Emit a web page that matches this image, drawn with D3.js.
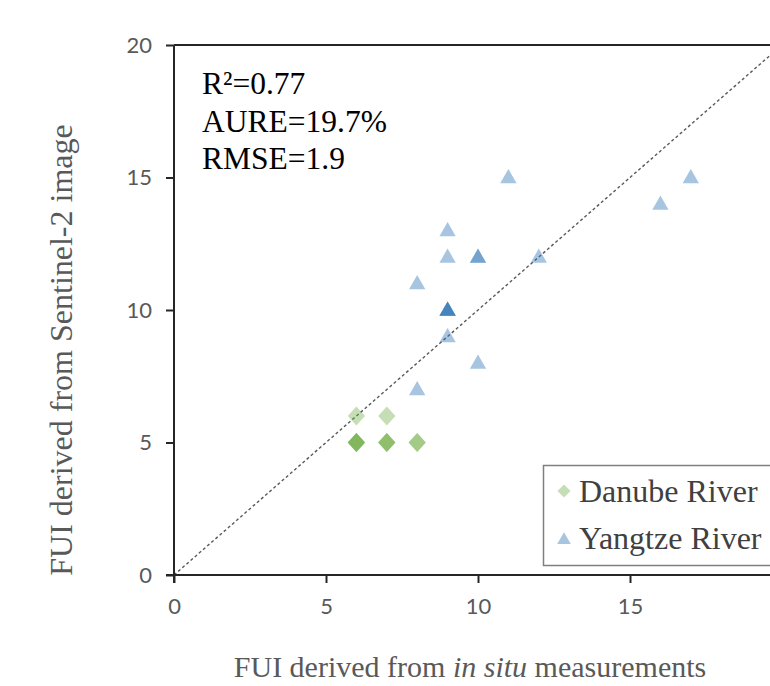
<!DOCTYPE html>
<html><head><meta charset="utf-8">
<script src="https://cdn.jsdelivr.net/npm/d3@7"></script>
<style>body{margin:0;background:#fff}</style></head>
<body><svg id="c" width="770" height="686"></svg>
<script>
const xTicks=[0,5,10,15];
const yTicks=[0,5,10,15,20];
// Danube River (in situ, Sentinel-2); repeated points overlap and look darker
const danubeX=[6,7,6,6,6,6,7,7,7,8,8];
const danubeY=[6,6,5,5,5,5,5,5,5,5,5];
// Yangtze River
const yangtzeX=[11,17,16,9,9,10,10,12,8,9,9,9,9,9,10,8];
const yangtzeY=[15,15,14,13,12,12,12,12,11,10,10,10,10,9,8,7];
const stats=["R²=0.77","AURE=19.7%","RMSE=1.9"];
const seriesNames=["Danube River","Yangtze River"];

const svg=d3.select("#c");
const L=174,T=45,B=575,R=782;
const x=d3.scaleLinear().domain([0,20]).range([L,R]);
const y=d3.scaleLinear().domain([0,20]).range([B,T]);
const serif="'Liberation Serif', 'Times New Roman', serif";

svg.append("defs").append("clipPath").attr("id","cp").append("rect")
 .attr("x",L).attr("y",T).attr("width",R-L).attr("height",B-T);

// diagonal 1:1 line
svg.append("line").attr("clip-path","url(#cp)")
 .attr("x1",x(0)).attr("y1",y(0)).attr("x2",x(20)).attr("y2",y(20))
 .attr("stroke","#595959").attr("stroke-width",1.4).attr("stroke-dasharray","3,2.5");

// top border
svg.append("line").attr("x1",L).attr("x2",R).attr("y1",T).attr("y2",T)
 .attr("stroke","#262626").attr("stroke-width",2);

const xa=svg.append("g").attr("transform",`translate(0,${B})`)
 .call(d3.axisBottom(x).tickValues(xTicks).tickSize(8).tickPadding(15));
const ya=svg.append("g").attr("transform",`translate(${L},0)`)
 .call(d3.axisLeft(y).tickValues(yTicks).tickSize(8).tickPadding(14));
[xa,ya].forEach(a=>{
 a.select(".domain").attr("stroke","#262626").attr("stroke-width",2);
 a.selectAll(".tick line").attr("stroke","#262626").attr("stroke-width",2);
 a.selectAll("text").attr("fill","#595959").style("font-family","Lato, 'Open Sans', sans-serif").style("font-size","22px");
});
xa.select(".domain").attr("d",`M${L-8},0H${R}`);
ya.select(".domain").attr("d",`M0,${B+8}V${T}`);

const diamond=d3.symbol().type(d3.symbolDiamond2).size(190);
const tri=d3.symbol().type(d3.symbolTriangle).size(115);

svg.append("g").selectAll("path").data(danubeX.map((v,i)=>[v,danubeY[i]])).join("path")
 .attr("d",diamond).attr("transform",d=>`translate(${x(d[0])},${y(d[1])}) scale(1,1.1)`)
 .attr("fill","#70ad47").attr("fill-opacity",0.4);
svg.append("g").selectAll("path").data(yangtzeX.map((v,i)=>[v,yangtzeY[i]])).join("path")
 .attr("d",tri).attr("transform",d=>`translate(${x(d[0])},${y(d[1])+1})`)
 .attr("fill","#2e75b6").attr("fill-opacity",0.42);

// stats
const st=svg.append("text")
 .style("font-family",serif).style("font-size","31.5px").attr("fill","#000");
stats.forEach((s,i)=>st.append("tspan").attr("x",202).attr("y",94+i*37.5).text(s));

// legend
svg.append("rect").attr("x",543.5).attr("y",465.5).attr("width",240).attr("height",100)
 .attr("fill","#fff").attr("stroke","#7f7f7f").attr("stroke-width",1.5);
const lg=svg.append("g");
lg.append("path").attr("d",d3.symbol().type(d3.symbolDiamond2).size(110))
 .attr("transform","translate(564,491)").attr("fill","#70ad47").attr("fill-opacity",0.4);
lg.append("path").attr("d",d3.symbol().type(d3.symbolTriangle).size(80))
 .attr("transform","translate(564,540)").attr("fill","#2e75b6").attr("fill-opacity",0.42);
seriesNames.forEach((n,i)=>lg.append("text").attr("x",579).attr("y",502+i*47).text(n)
 .style("font-family",serif).style("font-size","32px").attr("fill","#404040"));

// axis titles
const xt=svg.append("text").attr("x",470).attr("y",677).attr("text-anchor","middle")
 .style("font-family",serif).style("font-size","30px").attr("fill","#595959");
xt.append("tspan").text("FUI derived from ");
xt.append("tspan").attr("font-style","italic").text("in situ");
xt.append("tspan").text(" measurements");
svg.append("text").attr("transform","translate(72,350) rotate(-90)").attr("text-anchor","middle")
 .style("font-family",serif).style("font-size","32px").attr("fill","#595959")
 .text("FUI derived from  Sentinel-2 image");
</script></body></html>
